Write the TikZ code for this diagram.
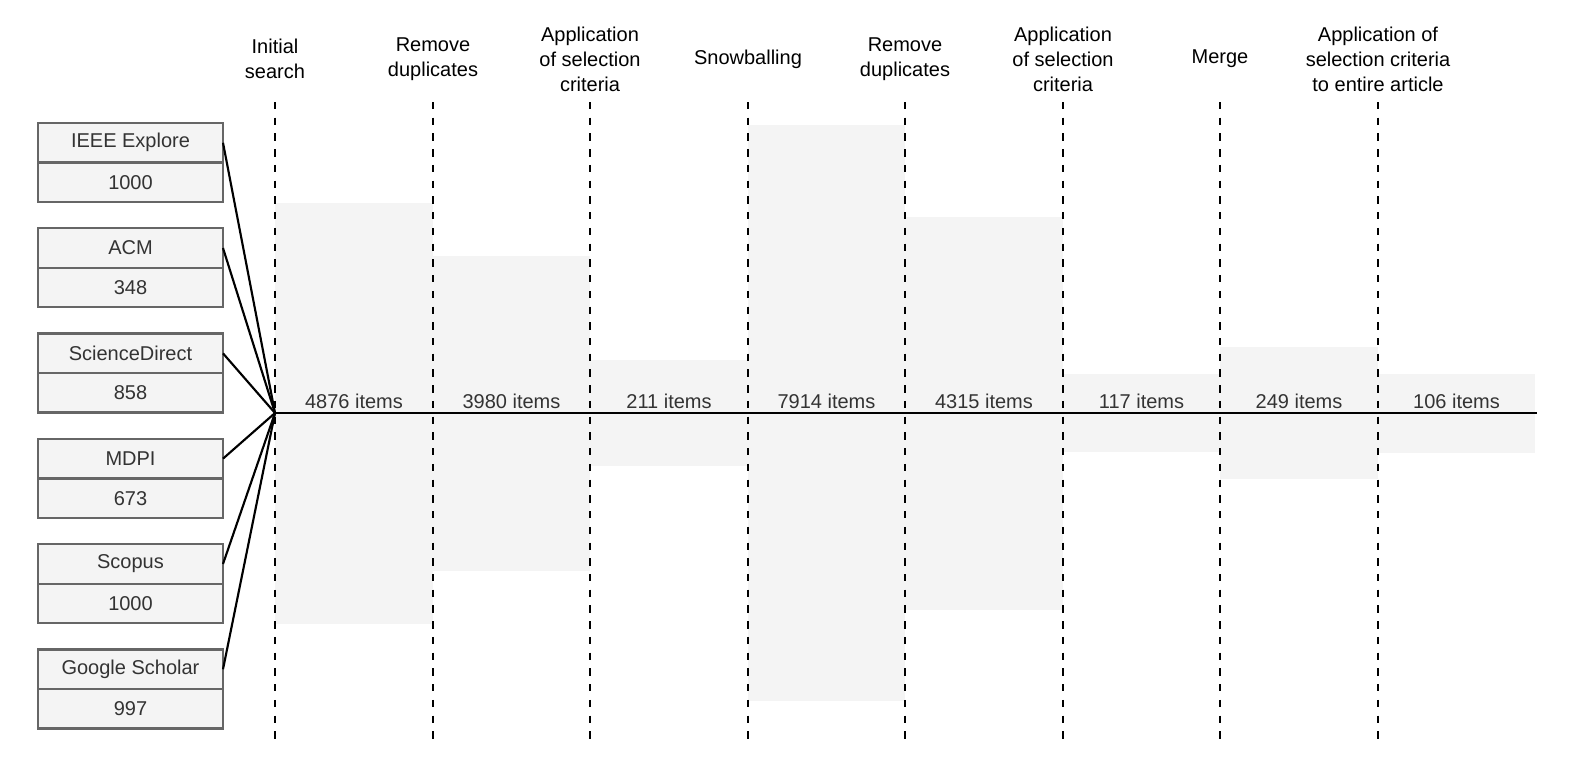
\documentclass[tikz,border=0pt]{standalone}
\usepackage{fontspec}
\setmainfont{Liberation Sans}
\usepackage{xcolor}
\usepackage{tikz}
\usetikzlibrary{arrows}
\usetikzlibrary{calc}
\usetikzlibrary{positioning}

\definecolor{bandgray}{HTML}{F4F4F4}
\definecolor{boxline}{HTML}{666666}
\definecolor{txtgray}{HTML}{333333}

\begin{document}
\begin{tikzpicture}[x=0.75pt,y=-0.75pt,-,auto,font=\fontsize{15}{18.75}\selectfont]
	\tikzstyle{cell}=[draw=boxline, line width=1.7pt, fill=bandgray, text=txtgray, minimum width=138.75pt, minimum height=29.6pt, inner sep=0pt, outer sep=0pt]
	\tikzstyle{stage}=[align=center, inner sep=0pt]
	\tikzstyle{count}=[text=txtgray, inner sep=0pt]
	\tikzstyle{band}=[fill=bandgray, draw=none]
	\tikzstyle{cut}=[line width=1.7pt, dash pattern=on 5.5pt off 6.3pt]
	\tikzstyle{feed}=[line width=1.6pt]
	\useasboundingbox (0,0) rectangle (1578,764);

	% grey bands, half height per step
	\foreach \i/\h in {0/210.5, 1/157.5, 2/53, 3/288, 4/196.5, 5/39, 6/66, 7/39.5}
		\fill[band] ({275+round(157.5*\i)},413-\h) rectangle ({275+round(157.5*(\i+1))},413+\h);

	% steps and dashed separators
	\foreach \i/\txt in {0/{Initial\\search}, 1/{Remove\\duplicates}, 2/{Application\\of selection\\criteria}, 3/{Snowballing}, 4/{Remove\\duplicates}, 5/{Application\\of selection\\criteria}, 6/{Merge}, 7/{Application of\\selection criteria\\to entire article}}
	{
		\pgfmathsetmacro{\xx}{275+round(157.5*\i)}
		\node[stage] (s\i) at (\xx,59) {\txt};
		\coordinate (t\i) at (\xx,102);
		\coordinate (b\i) at (\xx,742);
		\draw[cut] (t\i) -- (b\i);
	}

	% item counts
	\foreach \i/\n in {0/4876, 1/3980, 2/211, 3/7914, 4/4315, 5/117, 6/249, 7/106}
		\node[count] (c\i) at (354+157.5*\i,401) {\n\ items};

	\coordinate (hub) at (275,413);
	\coordinate (tail) at (1537,413);
	\draw[line width=2pt] (hub) -- (tail);

	% sources
	\foreach \k/\name/\num in {0/IEEE Explore/1000, 1/ACM/348, 2/ScienceDirect/858, 3/MDPI/673, 4/Scopus/1000, 5/Google Scholar/997}
	{
		\node[cell] (n\k) at (130.5,142.75+105.3*\k) {\name};
		\node[cell] (v\k) [below=0pt of n\k] {\num};
		\draw[feed] (n\k.east) -- (hub);
	}
\end{tikzpicture}
\end{document}
